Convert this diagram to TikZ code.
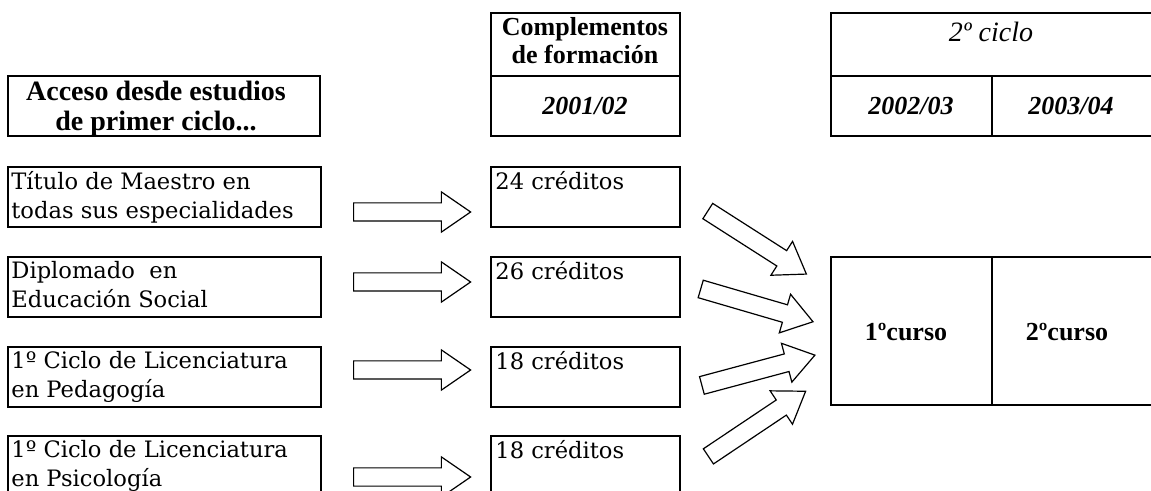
\documentclass[tikz,border=0pt]{standalone}
\usepackage{fontspec}
\setmainfont{Liberation Serif}
\newfontfamily\bodyfont{DejaVu Serif}
\usetikzlibrary{shapes.arrows}

\tikzset{
	cell/.style={line width=1pt},
	hollow/.style={single arrow, draw, line width=0.6pt, inner sep=4.25pt,
		minimum height=58.5pt, single arrow head extend=5.5pt,
		single arrow tip angle=69, sloped},
	body/.style={font=\bodyfont\fontsize{11.3}{14.5}\selectfont,
		anchor=north west, align=left, inner sep=0pt},
	head/.style={font=\bfseries\fontsize{14}{15}\selectfont, align=center, inner sep=0pt},
	year/.style={font=\bfseries\itshape\fontsize{13}{14}\selectfont, inner sep=0pt},
}

\begin{document}
\begin{tikzpicture}[x=0.5pt, y=-0.5pt]
				\useasboundingbox (0,0) rectangle (1151,491);
				\clip (0,0) rectangle (1151,491);
				% headers
				\draw[cell] (8,76) rectangle (320,136);
				\node[head] (acc) at (156,109) {Acceso desde estudios\\de primer ciclo...};
				\draw[cell] (491,13) rectangle (680,136);
				\draw[cell] (491,76) -- (680,76);
				\node[head, font=\bfseries\fontsize{13}{14}\selectfont] (comp) at (585,41) {Complementos\\de formación};
				\node[year] (y01) at (585,106) {2001/02};
				\draw[cell] (831,13) rectangle (1153,136);
				\draw[cell] (831,76) -- (1153,76);
				\draw[cell] (992,76) -- (992,136);
				\node[font=\itshape\fontsize{14}{14.5}\selectfont, inner sep=0pt] (cyc) at (991,32) {2º ciclo};
				\node[year] (y02) at (911,106) {2002/03};
				\node[year] (y03) at (1071,106) {2003/04};
				% source boxes and credits
				\foreach \y in {167,257,347,436}{
					\draw[cell] (8,\y) rectangle (321,\y+60);
					\draw[cell] (491,\y) rectangle (680,\y+60);
				}
				\node[body] (src1) at (11,171) {Título de Maestro en\\todas sus especialidades};
				\node[body] (src2) at (11,261) {Diplomado\ \ en\\Educación Social};
				\node[body] (src3) at (11,351) {1º Ciclo de Licenciatura\\en Pedagogía};
				\node[body] (src4) at (11,440) {1º Ciclo de Licenciatura\\en Psicología};
				\node[body] (cr1) at (495,171) {24 créditos};
				\node[body] (cr2) at (495,261) {26 créditos};
				\node[body] (cr3) at (495,351) {18 créditos};
				\node[body] (cr4) at (495,440) {18 créditos};
				% horizontal arrows
				\foreach \i/\y in {1/212, 2/282, 3/370, 4/477}{
					\coordinate (hs\i) at (347,\y);
					\coordinate (he\i) at (464,\y);
					\path (hs\i) -- (he\i) node[hollow, midway] (ha\i) {};
				}
				% arrows into the courses
				\foreach \i/\sx/\sy/\ex/\ey in {1/703/208/800/270, 2/694/287/807/320, 3/696/387/808/357, 4/703/460/800/395}{
					\coordinate (ds\i) at (\sx,\sy);
					\coordinate (de\i) at (\ex,\ey);
					\path (ds\i) -- (de\i) node[hollow, midway] (da\i) {};
				}
				% courses
				\draw[cell] (831,257) rectangle (1153,405);
				\draw[cell] (992,257) -- (992,405);
				\node[font=\bfseries\fontsize{13}{14}\selectfont, inner sep=0pt] (c1) at (906,332) {1ºcurso};
				\node[font=\bfseries\fontsize{13}{14}\selectfont, inner sep=0pt] (c2) at (1067,332) {2ºcurso};
			\end{tikzpicture}
\end{document}
